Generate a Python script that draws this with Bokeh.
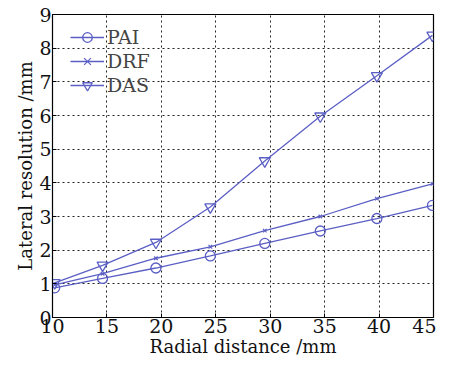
from bokeh.plotting import figure
from bokeh.embed import file_html
from bokeh.resources import INLINE
from bokeh.models import Range1d, FixedTicker, Legend, LegendItem

pai_x = [10.2, 14.6, 19.5, 24.5, 29.5, 34.6, 39.8, 44.9]
pai_y = [0.88, 1.16, 1.47, 1.83, 2.20, 2.57, 2.94, 3.33]
drf_x = [10.2, 14.6, 19.5, 24.5, 29.5, 34.6, 39.8, 44.9]
drf_y = [0.97, 1.30, 1.76, 2.10, 2.58, 3.00, 3.53, 3.97]
das_x = [10.2, 14.6, 19.5, 24.5, 29.5, 34.6, 39.8, 44.9]
das_y = [1.03, 1.55, 2.23, 3.28, 4.65, 5.98, 7.18, 8.38]
x_ticks = [10, 15, 20, 25, 30, 35, 40, 45]
y_ticks = [0, 1, 2, 3, 4, 5, 6, 7, 8, 9]

C = "#5b5fc4"
FONT = "DejaVu Serif"

p = figure(width=436, height=362, output_backend="svg", toolbar_location=None,
           x_range=Range1d(10, 45), y_range=Range1d(0, 9),
           min_border_left=52, min_border_right=3, min_border_top=14, min_border_bottom=45)
p.outline_line_color = "black"
p.outline_line_width = 1.2

r1 = p.line(pai_x, pai_y, line_color=C, line_width=1.3)
m1 = p.scatter(pai_x, pai_y, marker="circle", size=10, fill_color=None, line_color=C, line_width=1.3)
r2 = p.line(drf_x, drf_y, line_color=C, line_width=1.3)
m2 = p.scatter(drf_x, drf_y, marker="x", size=5, line_color=C, line_width=1.2)
r3 = p.line(das_x, das_y, line_color=C, line_width=1.3)
m3 = p.scatter(das_x, das_y, marker="inverted_triangle", size=11, fill_color=None, line_color=C, line_width=1.3)

legend = Legend(items=[LegendItem(label="PAI", renderers=[r1, m1]),
                       LegendItem(label="DRF", renderers=[r2, m2]),
                       LegendItem(label="DAS", renderers=[r3, m3])],
                location=(14, 216))
legend.background_fill_alpha = 0
legend.border_line_alpha = 0
legend.label_text_font = FONT
legend.label_text_font_size = "19px"
legend.glyph_width = 34
legend.spacing = 0
legend.label_height = 24
legend.glyph_height = 24
legend.margin = 0
legend.padding = 4
legend.label_standoff = 3
p.add_layout(legend)

for ax in (p.xaxis[0], p.yaxis[0]):
    ax.major_label_text_font = FONT
    ax.major_label_text_font_size = "19px"
    ax.major_label_text_color = "#111111"
    ax.axis_label_text_font = FONT
    ax.axis_label_text_font_size = "18px"
    ax.axis_label_text_font_style = "normal"
    ax.axis_label_text_color = "#111111"
    ax.major_tick_in = 4
    ax.major_tick_out = 0
    ax.minor_tick_line_color = None
    ax.axis_line_color = "black"
    ax.major_label_standoff = 1
    ax.axis_label_standoff = 0

p.xaxis.ticker = FixedTicker(ticks=x_ticks)
p.yaxis.ticker = FixedTicker(ticks=y_ticks)
p.xaxis.axis_label = "Radial distance /mm"
p.yaxis.axis_label = "Lateral resolution /mm"

p.xgrid.ticker = FixedTicker(ticks=x_ticks)
p.ygrid.ticker = FixedTicker(ticks=y_ticks)
for g in (p.xgrid[0], p.ygrid[0]):
    g.grid_line_color = "#222222"
    g.grid_line_dash = "2 3"
    g.grid_line_width = 1

open("out.html", "w").write(file_html(p, INLINE))
